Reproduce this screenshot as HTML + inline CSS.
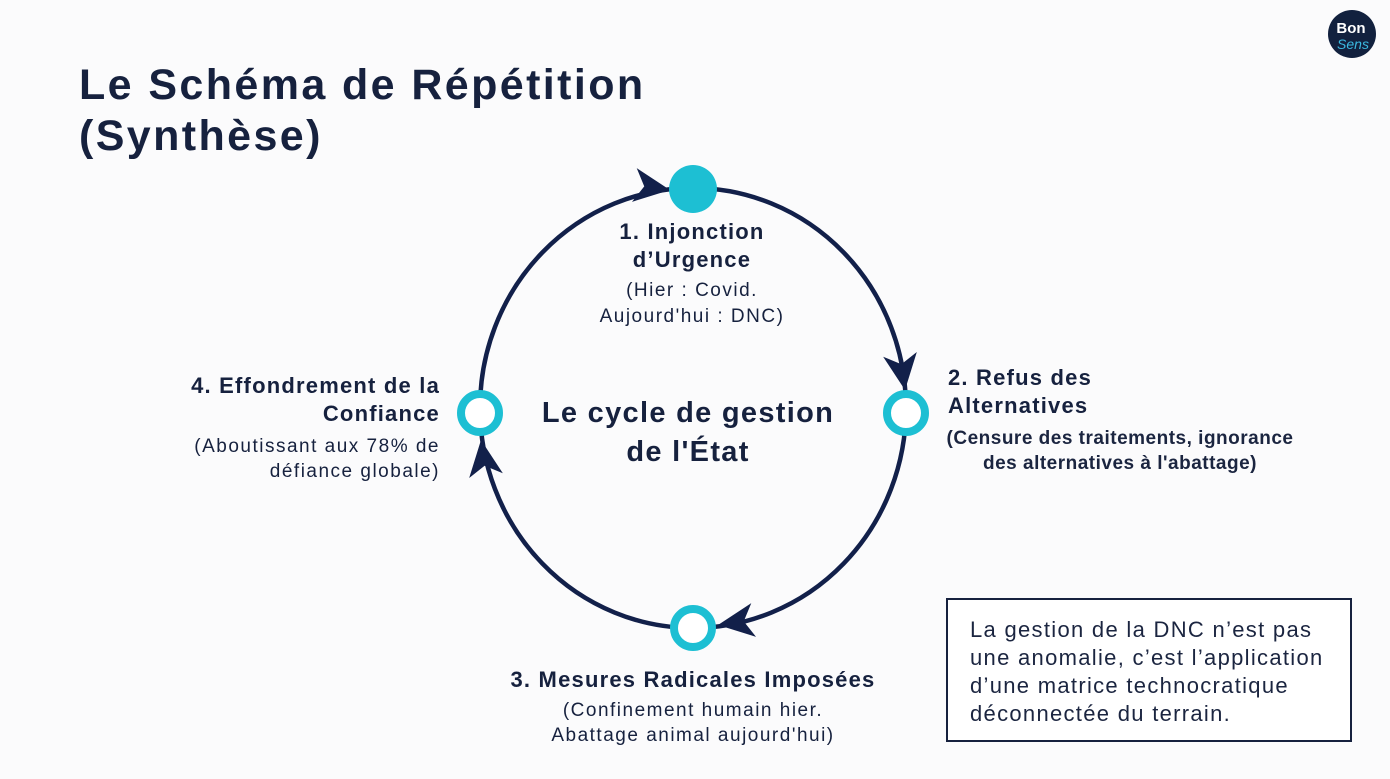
<!DOCTYPE html>
<html><head><meta charset="utf-8"><style>
html,body{margin:0;padding:0}
body{width:1390px;height:779px;background:#fbfbfc;position:relative;overflow:hidden;font-family:"Liberation Sans",sans-serif;color:#16213e}
.t{position:absolute;white-space:nowrap}
.b{font-weight:bold}
</style></head><body>
<div class="t b" style="left:79px;top:60px;font-size:43px;line-height:51px;letter-spacing:2.4px;color:#16213e">Le Schéma de Répétition<br>(Synthèse)</div>

<svg width="1390" height="779" style="position:absolute;left:0;top:0">
<ellipse cx="693" cy="408" rx="213" ry="220" fill="none" stroke="#12204a" stroke-width="4.5"/>
<g fill="#12204a">
<polygon points="0,0 -36,-17 -26,0 -36,17" transform="translate(670,190) rotate(8)"/>
<polygon points="0,0 -36,-17 -26,0 -36,17" transform="translate(905,390) rotate(82)"/>
<polygon points="0,0 -36,-17 -26,0 -36,17" transform="translate(718,625) rotate(172)"/>
<polygon points="0,0 -36,-17 -26,0 -36,17" transform="translate(481,440) rotate(-98)"/>
</g>
<circle cx="693" cy="189" r="24" fill="#1dbfd3"/>
<circle cx="906" cy="413" r="19" fill="#fff" stroke="#1dbfd3" stroke-width="8"/>
<circle cx="693" cy="628" r="19" fill="#fff" stroke="#1dbfd3" stroke-width="8"/>
<circle cx="480" cy="413" r="19" fill="#fff" stroke="#1dbfd3" stroke-width="8"/>
<circle cx="1352" cy="34" r="24" fill="#12213e"/>
<text x="1351" y="33" font-family="Liberation Sans" font-weight="bold" font-size="15" fill="#fff" text-anchor="middle">Bon</text>
<text x="1353" y="49" font-family="Liberation Sans" font-style="italic" font-size="14" fill="#3bb9e0" text-anchor="middle">Sens</text>
</svg>

<div class="t b" style="left:492px;width:400px;text-align:center;top:218px;font-size:22px;line-height:28px;letter-spacing:1.2px">1. Injonction<br>d’Urgence</div>
<div class="t" style="left:492px;width:400px;text-align:center;top:278px;font-size:19px;line-height:26px;letter-spacing:1.5px">(Hier : Covid.<br>Aujourd'hui : DNC)</div>

<div class="t b" style="left:948px;top:364px;font-size:22px;line-height:28px;letter-spacing:1.2px">2. Refus des<br>Alternatives</div>
<div class="t b" style="left:900px;width:440px;text-align:center;top:426px;font-size:19px;line-height:25px;letter-spacing:0.5px;color:#1b2540">(Censure des traitements, ignorance<br>des alternatives à l'abattage)</div>

<div class="t b" style="left:100px;width:340px;text-align:right;top:372px;font-size:22px;line-height:28px;letter-spacing:1.2px">4. Effondrement de la<br>Confiance</div>
<div class="t" style="left:100px;width:340px;text-align:right;top:434px;font-size:19px;line-height:25px;letter-spacing:1.5px">(Aboutissant aux 78% de<br>défiance globale)</div>

<div class="t b" style="left:488px;width:400px;text-align:center;top:394px;font-size:29px;line-height:39px;letter-spacing:1.3px">Le cycle de gestion<br>de l'État</div>

<div class="t b" style="left:393px;width:600px;text-align:center;top:666px;font-size:22px;line-height:28px;letter-spacing:1.2px">3. Mesures Radicales Imposées</div>
<div class="t" style="left:393px;width:600px;text-align:center;top:698px;font-size:19px;line-height:25px;letter-spacing:1.5px">(Confinement humain hier.<br>Abattage animal aujourd'hui)</div>

<div style="position:absolute;left:946px;top:598px;width:402px;height:140px;border:2.5px solid #16213e;background:#fff"></div>
<div class="t" style="left:970px;top:616px;font-size:22px;line-height:28px;letter-spacing:1.3px;color:#1b2540">La gestion de la DNC n’est pas<br>une anomalie, c’est l’application<br>d’une matrice technocratique<br>déconnectée du terrain.</div>
</body></html>
